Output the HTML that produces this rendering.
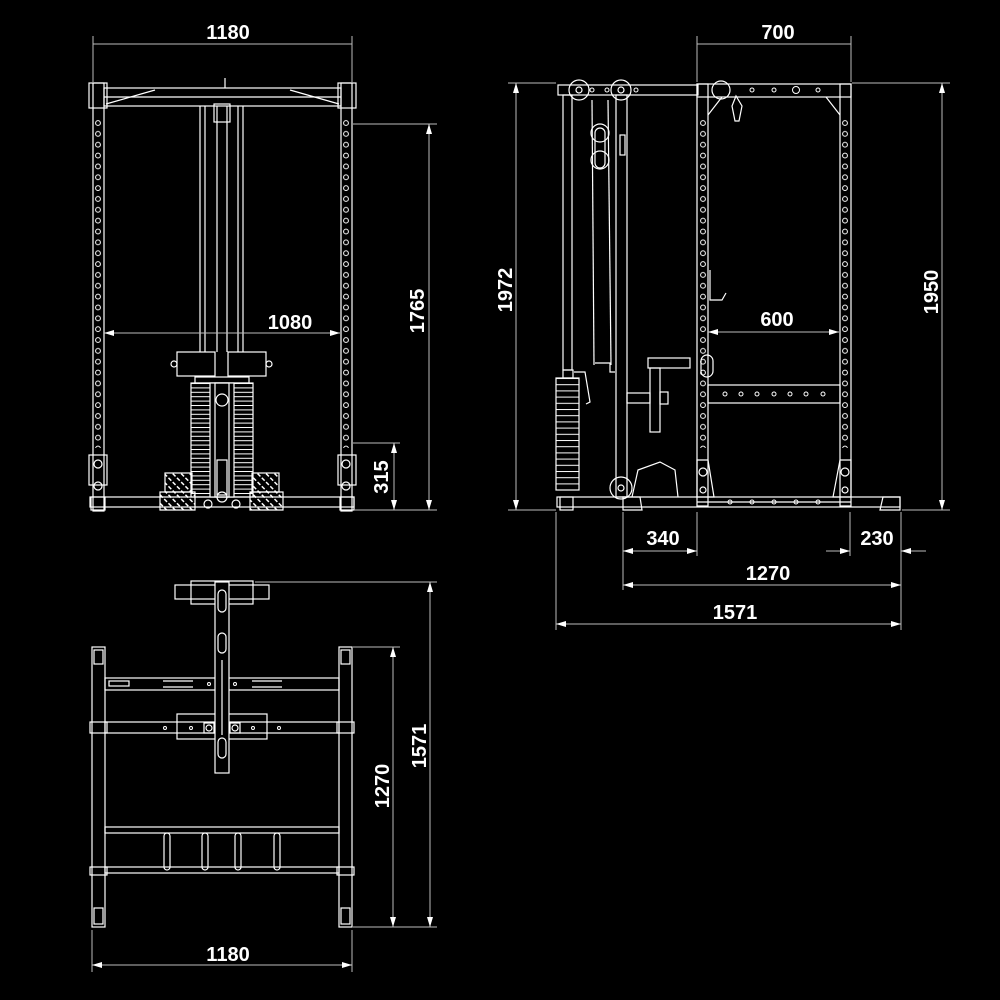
<!DOCTYPE html>
<html><head><meta charset="utf-8"><style>
html,body{margin:0;padding:0;background:#000;}
svg{display:block}
text{font-family:"Liberation Sans",sans-serif;font-weight:bold;font-size:20px;fill:#fff;text-anchor:middle}
</style></head><body>
<svg width="1000" height="1000" viewBox="0 0 1000 1000" xmlns="http://www.w3.org/2000/svg">
<defs>
<marker id="a" viewBox="0 0 10 6" refX="10" refY="3" markerWidth="10" markerHeight="6" orient="auto-start-reverse" markerUnits="userSpaceOnUse"><path d="M0,0 L10,3 L0,6z" fill="#fff"/></marker>
<pattern id="holesF" x="93" y="118" width="248" height="10.85" patternUnits="userSpaceOnUse"><circle cx="5" cy="5" r="2.4" fill="none" stroke="#fff" stroke-width="1"/></pattern>
<pattern id="holesS" x="698" y="118" width="142" height="10.85" patternUnits="userSpaceOnUse"><circle cx="5" cy="5" r="2.4" fill="none" stroke="#fff" stroke-width="1"/></pattern>
<pattern id="plates" x="0" y="383" width="10" height="4.4" patternUnits="userSpaceOnUse"><line x1="0" y1="0.5" x2="10" y2="0.5" stroke="#fff" stroke-width="1"/></pattern>
<pattern id="plates2" x="0" y="378" width="10" height="6.2" patternUnits="userSpaceOnUse"><line x1="0" y1="0.5" x2="10" y2="0.5" stroke="#fff" stroke-width="1"/></pattern>
<pattern id="diam" width="6" height="6" patternUnits="userSpaceOnUse" patternTransform="rotate(45)"><rect x="1" y="2" width="4" height="1.5" fill="#fff"/></pattern>
</defs>

<!-- ========== FRONT VIEW ========== -->
<g fill="none" stroke="#fff" stroke-width="1.2">
  <rect x="93" y="83" width="11" height="428"/>
  <rect x="341" y="83" width="11" height="428"/>
  <rect x="89" y="83" width="18" height="25"/>
  <rect x="338" y="83" width="18" height="25"/>
  <rect x="104" y="88" width="237" height="18"/>
  <line x1="104" y1="97" x2="341" y2="97"/>
  <line x1="106" y1="104" x2="155" y2="90"/>
  <line x1="339" y1="104" x2="290" y2="90"/>
  <line x1="225" y1="78" x2="225" y2="88"/>
  <rect x="89" y="455" width="18" height="30"/>
  <rect x="338" y="455" width="18" height="30"/>
  <circle cx="98" cy="464" r="4"/><circle cx="98" cy="486" r="4"/>
  <circle cx="346" cy="464" r="4"/><circle cx="346" cy="486" r="4"/>
  <rect x="90" y="497" width="264" height="10"/>
  <rect x="91" y="497" width="14" height="13"/>
  <rect x="340" y="497" width="14" height="13"/>
  <line x1="200" y1="106" x2="200" y2="352"/>
  <line x1="205" y1="106" x2="205" y2="352"/>
  <line x1="217" y1="106" x2="217" y2="352"/>
  <line x1="227" y1="106" x2="227" y2="352"/>
  <line x1="238" y1="106" x2="238" y2="352"/>
  <line x1="243" y1="106" x2="243" y2="352"/>
  <rect x="214" y="104" width="16" height="18"/>
  <rect x="177" y="352" width="38" height="24"/>
  <rect x="228" y="352" width="38" height="24"/>
  <circle cx="174" cy="364" r="3"/><circle cx="269" cy="364" r="3"/>
  <rect x="195" y="377" width="54" height="6"/>
  <rect x="191" y="383" width="62" height="114" fill="url(#plates)"/>
  <rect x="210" y="383" width="24" height="114" fill="#000"/>
  <rect x="215" y="383" width="14" height="114"/>
  <circle cx="222" cy="400" r="6"/>
  <rect x="217" y="460" width="10" height="35"/>
  <circle cx="222" cy="497" r="5"/>
  <rect x="165" y="473" width="27" height="19" fill="url(#diam)"/>
  <path d="M160,492 L195,492 L195,510 L160,510 Z" fill="url(#diam)"/>
  <rect x="252" y="473" width="27" height="19" fill="url(#diam)"/>
  <path d="M250,492 L283,492 L283,510 L250,510 Z" fill="url(#diam)"/>
  <circle cx="208" cy="504" r="4"/><circle cx="236" cy="504" r="4"/>
</g>
<rect x="93" y="118" width="11" height="330" fill="url(#holesF)"/>
<rect x="341" y="118" width="11" height="330" fill="url(#holesF)"/>

<!-- front dims -->
<g stroke="#bbb" stroke-width="1" fill="none">
  <line x1="93" y1="36" x2="93" y2="82"/><line x1="352" y1="36" x2="352" y2="82"/>
  <line x1="93" y1="44" x2="352" y2="44"/>
  <line x1="104" y1="333" x2="340" y2="333" marker-start="url(#a)" marker-end="url(#a)"/>
  <line x1="353" y1="124" x2="437" y2="124"/>
  <line x1="429" y1="124" x2="429" y2="510" marker-start="url(#a)" marker-end="url(#a)"/>
  <line x1="353" y1="443" x2="400" y2="443"/>
  <line x1="394" y1="443" x2="394" y2="510" marker-start="url(#a)" marker-end="url(#a)"/>
  <line x1="354" y1="510" x2="437" y2="510"/>
</g>
<text x="228" y="39">1180</text>
<text x="290" y="329">1080</text>
<text transform="translate(424,311) rotate(-90)">1765</text>
<text transform="translate(388,477) rotate(-90)">315</text>

<!-- ========== SIDE VIEW ========== -->
<g fill="none" stroke="#fff" stroke-width="1.2">
  <rect x="558" y="85" width="140" height="10"/>
  <rect x="697" y="84" width="154" height="13"/>
  <rect x="697" y="84" width="11" height="422"/>
  <rect x="840" y="84" width="11" height="422"/>
  <path d="M708,115 L722,97 M840,115 L826,97"/>
  <rect x="563" y="95" width="9" height="275"/>
  <rect x="616" y="95" width="11" height="402"/>
  <rect x="620" y="135" width="5" height="20"/>
  <circle cx="579" cy="90" r="10"/><circle cx="579" cy="90" r="3"/>
  <circle cx="621" cy="90" r="10"/><circle cx="621" cy="90" r="3"/>
  <circle cx="600" cy="133" r="9"/><circle cx="600" cy="160" r="9"/>
  <rect x="595" y="128" width="10" height="40" rx="5"/>
  <circle cx="721" cy="90" r="9"/>
  <path d="M736,96 l-4,10 l3,15 l4,0 l3,-15 z"/>
  <line x1="592" y1="100" x2="594" y2="365"/><line x1="608" y1="100" x2="611" y2="365"/>
  <rect x="563" y="370" width="10" height="8"/>
  <rect x="556" y="378" width="23" height="112" fill="url(#plates2)"/>
  <path d="M574,372 L585,372 L590,402 L586,404"/>
  <path d="M595,363 L610,363 L610,372 L615,372"/>
  <rect x="648" y="358" width="42" height="10"/>
  <rect x="650" y="368" width="10" height="64"/>
  <rect x="627" y="393" width="23" height="10"/>
  <rect x="660" y="392" width="8" height="12"/>
  <rect x="708" y="385" width="132" height="18"/>
  <rect x="701" y="355" width="12" height="22" rx="6"/>
  <path d="M710,270 L710,300 L722,300 L726,293"/>
  <circle cx="621" cy="488" r="11"/><circle cx="621" cy="488" r="3"/>
  <path d="M632,497 L638,470 L660,462 L675,470 L678,497"/>
  <path d="M697,460 L708,460 L714,497 L697,497 Z"/>
  <path d="M851,460 L840,460 L833,497 L851,497 Z"/>
  <rect x="557" y="497" width="343" height="10"/>
  <rect x="560" y="497" width="13" height="13"/>
  <path d="M623,497 L640,497 L642,510 L623,510 Z"/>
  <path d="M883,497 L900,497 L900,510 L880,510 Z"/>
  <line x1="697" y1="502" x2="851" y2="502"/>
  <circle cx="703" cy="472" r="4"/><circle cx="703" cy="490" r="3"/>
  <circle cx="845" cy="472" r="4"/><circle cx="845" cy="490" r="3"/>
</g>
<rect x="697" y="118" width="11" height="330" fill="url(#holesS)"/>
<rect x="840" y="118" width="11" height="330" fill="url(#holesS)"/>
<g fill="none" stroke="#fff" stroke-width="1">
  <circle cx="725" cy="394" r="2"/><circle cx="741" cy="394" r="2"/><circle cx="757" cy="394" r="2"/><circle cx="774" cy="394" r="2"/><circle cx="790" cy="394" r="2"/><circle cx="806" cy="394" r="2"/><circle cx="823" cy="394" r="2"/>
  <circle cx="730" cy="502" r="2"/><circle cx="752" cy="502" r="2"/><circle cx="774" cy="502" r="2"/><circle cx="796" cy="502" r="2"/><circle cx="818" cy="502" r="2"/>
  <circle cx="592" cy="90" r="2"/><circle cx="607" cy="90" r="2"/><circle cx="636" cy="90" r="2"/>
  <circle cx="752" cy="90" r="2"/><circle cx="774" cy="90" r="2"/><circle cx="796" cy="90" r="3.5"/><circle cx="818" cy="90" r="2"/>
</g>

<!-- side dims -->
<g stroke="#bbb" stroke-width="1" fill="none">
  <line x1="697" y1="36" x2="697" y2="82"/><line x1="851" y1="36" x2="851" y2="82"/>
  <line x1="697" y1="44" x2="851" y2="44"/>
  <line x1="508" y1="83" x2="556" y2="83"/><line x1="508" y1="510" x2="556" y2="510"/>
  <line x1="516" y1="83" x2="516" y2="510" marker-start="url(#a)" marker-end="url(#a)"/>
  <line x1="852" y1="83" x2="950" y2="83"/><line x1="902" y1="510" x2="950" y2="510"/>
  <line x1="942" y1="83" x2="942" y2="510" marker-start="url(#a)" marker-end="url(#a)"/>
  <line x1="708" y1="332" x2="839" y2="332" marker-start="url(#a)" marker-end="url(#a)"/>
  <line x1="556" y1="512" x2="556" y2="630"/>
  <line x1="623" y1="512" x2="623" y2="590"/>
  <line x1="697" y1="512" x2="697" y2="556"/>
  <line x1="850" y1="512" x2="850" y2="556"/>
  <line x1="901" y1="512" x2="901" y2="630"/>
  <line x1="623" y1="551" x2="697" y2="551" marker-start="url(#a)" marker-end="url(#a)"/>
  <line x1="826" y1="551" x2="850" y2="551" marker-end="url(#a)"/>
  <line x1="926" y1="551" x2="901" y2="551" marker-end="url(#a)"/>
  <line x1="623" y1="585" x2="901" y2="585" marker-start="url(#a)" marker-end="url(#a)"/>
  <line x1="556" y1="624" x2="901" y2="624" marker-start="url(#a)" marker-end="url(#a)"/>
</g>
<text x="778" y="39">700</text>
<text x="777" y="326">600</text>
<text transform="translate(512,290) rotate(-90)">1972</text>
<text transform="translate(938,292) rotate(-90)">1950</text>
<text x="663" y="545">340</text>
<text x="877" y="545">230</text>
<text x="768" y="580">1270</text>
<text x="735" y="619">1571</text>

<!-- ========== TOP VIEW ========== -->
<g fill="none" stroke="#fff" stroke-width="1.2">
  <rect x="92" y="647" width="13" height="280"/>
  <rect x="339" y="647" width="13" height="280"/>
  <rect x="94" y="650" width="9" height="14"/><rect x="341" y="650" width="9" height="14"/>
  <rect x="94" y="908" width="9" height="16"/><rect x="341" y="908" width="9" height="16"/>
  <rect x="105" y="678" width="234" height="12"/>
  <rect x="109" y="681" width="20" height="5"/>
  <rect x="105" y="722" width="234" height="11"/>
  <rect x="177" y="714" width="90" height="25"/>
  <rect x="175" y="585" width="94" height="14"/>
  <rect x="191" y="581" width="62" height="23"/>
  <rect x="215" y="582" width="14" height="191" fill="#000"/>
  <rect x="218" y="590" width="8" height="22" rx="4"/>
  <rect x="218" y="633" width="8" height="20" rx="4"/>
  <rect x="218" y="738" width="8" height="20" rx="4"/>
  <line x1="222" y1="660" x2="222" y2="735"/>
  <rect x="204" y="723" width="10" height="10"/><rect x="230" y="723" width="10" height="10"/>
  <circle cx="209" cy="728" r="3"/><circle cx="235" cy="728" r="3"/>
  <path d="M163,681 l30,0 M163,687 l30,0 M252,681 l30,0 M252,687 l30,0"/>
  <rect x="105" y="827" width="234" height="6"/>
  <rect x="164" y="833" width="6" height="37" rx="3"/>
  <rect x="202" y="833" width="6" height="37" rx="3"/>
  <rect x="235" y="833" width="6" height="37" rx="3"/>
  <rect x="274" y="833" width="6" height="37" rx="3"/>
  <rect x="105" y="867" width="234" height="6"/>
  <rect x="90" y="867" width="17" height="8"/><rect x="337" y="867" width="17" height="8"/>
  <rect x="90" y="722" width="17" height="11"/><rect x="337" y="722" width="17" height="11"/>
</g>
<g fill="none" stroke="#fff" stroke-width="1">
  <circle cx="165" cy="728" r="1.5"/><circle cx="191" cy="728" r="1.5"/><circle cx="253" cy="728" r="1.5"/><circle cx="279" cy="728" r="1.5"/>
  <circle cx="209" cy="684" r="1.5"/><circle cx="235" cy="684" r="1.5"/>
</g>
<!-- top view dims -->
<g stroke="#bbb" stroke-width="1" fill="none">
  <line x1="92" y1="930" x2="92" y2="972"/><line x1="352" y1="930" x2="352" y2="972"/>
  <line x1="92" y1="965" x2="352" y2="965" marker-start="url(#a)" marker-end="url(#a)"/>
  <line x1="353" y1="647" x2="400" y2="647"/><line x1="353" y1="927" x2="437" y2="927"/>
  <line x1="393" y1="647" x2="393" y2="927" marker-start="url(#a)" marker-end="url(#a)"/>
  <line x1="255" y1="582" x2="437" y2="582"/>
  <line x1="430" y1="582" x2="430" y2="927" marker-start="url(#a)" marker-end="url(#a)"/>
</g>
<text x="228" y="961">1180</text>
<text transform="translate(389,786) rotate(-90)">1270</text>
<text transform="translate(426,746) rotate(-90)">1571</text>
</svg>
</body></html>
